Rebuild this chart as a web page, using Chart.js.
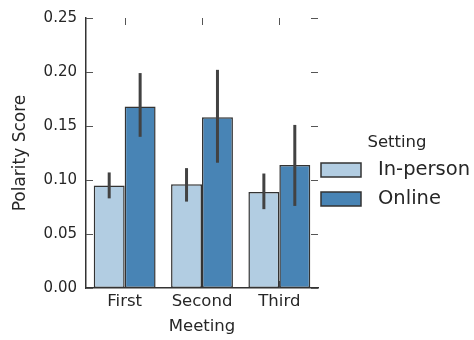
<!DOCTYPE html>
<html>
<head>
<meta charset="utf-8">
<script src="https://cdn.jsdelivr.net/npm/chart.js@4.4.1/dist/chart.umd.min.js"></script>
<style>
  html, body { margin: 0; padding: 0; background: #fff; }
  #wrap { width: 474px; height: 340px; }
</style>
</head>
<body>
<div id="wrap"><canvas id="chart" width="474" height="340"></canvas></div>
<script>
const meetings = ['First', 'Second', 'Third'];
const settings = ['In-person', 'Online'];

const inPerson = [0.095, 0.096, 0.089];
const online = [0.168, 0.158, 0.114];

// confidence intervals (low, high)
const inPersonLow = [0.083, 0.080, 0.073];
const inPersonHigh = [0.107, 0.111, 0.106];
const onlineLow = [0.140, 0.116, 0.076];
const onlineHigh = [0.199, 0.202, 0.151];

const yTicks = [0, 0.05, 0.10, 0.15, 0.20, 0.25];

const colors = ['#b2cde2', '#4884b5'];
const textColor = '#262626';
const font = 'DejaVu Sans';

const errorBars = {
    id: 'errorBars',
    afterDatasetsDraw(chart) {
        const ctx = chart.ctx;
        const y = chart.scales.y;
        const lows = [inPersonLow, onlineLow];
        const highs = [inPersonHigh, onlineHigh];
        ctx.save();
        ctx.strokeStyle = '#424242';
        ctx.lineWidth = 3;
        chart.data.datasets.forEach((ds, di) => {
            chart.getDatasetMeta(di).data.forEach((bar, i) => {
                ctx.beginPath();
                ctx.moveTo(bar.x, y.getPixelForValue(lows[di][i]));
                ctx.lineTo(bar.x, y.getPixelForValue(highs[di][i]));
                ctx.stroke();
            });
        });
        ctx.restore();
    }
};

// inward tick marks on all four sides, like the matplotlib style
const tickMarks = {
    id: 'tickMarks',
    beforeDatasetsDraw(chart) {
        const ctx = chart.ctx;
        const a = chart.chartArea;
        const x = chart.scales.x;
        const y = chart.scales.y;
        ctx.save();
        ctx.strokeStyle = '#555';
        ctx.lineWidth = 1;
        ctx.beginPath();
        yTicks.forEach(v => {
            const py = Math.round(y.getPixelForValue(v)) + 0.5;
            ctx.moveTo(a.left, py); ctx.lineTo(a.left + 7, py);
            ctx.moveTo(a.right - 7, py); ctx.lineTo(a.right, py);
        });
        meetings.forEach((m, i) => {
            const px = Math.round(x.getPixelForTick(i)) + 0.5;
            ctx.moveTo(px, a.top); ctx.lineTo(px, a.top + 7);
            ctx.moveTo(px, a.bottom); ctx.lineTo(px, a.bottom - 7);
        });
        ctx.stroke();
        ctx.restore();
    }
};

const sideLegend = {
    id: 'sideLegend',
    afterDraw(chart) {
        const ctx = chart.ctx;
        ctx.save();
        ctx.fillStyle = textColor;
        ctx.textBaseline = 'middle';
        ctx.textAlign = 'center';
        ctx.font = '16.5px "' + font + '"';
        ctx.fillText('Setting', 397, 143);
        ctx.textAlign = 'left';
        ctx.font = '19.5px "' + font + '"';
        settings.forEach((s, i) => {
            const top = 163 + i * 29;
            ctx.fillStyle = colors[i];
            ctx.fillRect(321, top, 40, 14);
            ctx.strokeStyle = '#333';
            ctx.lineWidth = 1.5;
            ctx.strokeRect(321, top, 40, 14);
            ctx.fillStyle = textColor;
            ctx.fillText(s, 378, top + 7);
        });
        ctx.restore();
    }
};

new Chart(document.getElementById('chart'), {
    type: 'bar',
    data: {
        labels: meetings,
        datasets: [
            { label: settings[0], data: inPerson, backgroundColor: colors[0] },
            { label: settings[1], data: online, backgroundColor: colors[1] }
        ]
    },
    options: {
        responsive: false,
        animation: false,
        layout: { padding: { top: 16, right: 156, left: 0, bottom: 0 } },
        datasets: {
            bar: {
                categoryPercentage: 0.8,
                barPercentage: 1.0,
                borderColor: '#333',
                borderWidth: 1.5,
                borderSkipped: false
            }
        },
        plugins: {
            legend: { display: false },
            tooltip: { enabled: false }
        },
        scales: {
            x: {
                grid: { display: false, drawTicks: false },
                border: { color: '#333', width: 1.5 },
                ticks: { color: textColor, font: { family: font, size: 16.5 }, padding: 4 },
                title: { display: true, text: 'Meeting', color: textColor, font: { family: font, size: 16.5 }, padding: { bottom: 3 } },
                afterFit(s) { s.height = 52; }
            },
            y: {
                min: 0,
                max: 0.25,
                afterBuildTicks(s) { s.ticks = yTicks.map(v => ({ value: v })); },
                grid: { display: false, drawTicks: false },
                border: { color: '#333', width: 1.5 },
                ticks: {
                    color: textColor,
                    font: { family: font, size: 15 },
                    padding: 9,
                    callback: v => v.toFixed(2)
                },
                title: { display: true, text: 'Polarity Score', color: textColor, font: { family: font, size: 17 }, padding: { top: 10 } },
                afterFit(s) { s.width = 86; }
            }
        }
    },
    plugins: [tickMarks, errorBars, sideLegend]
});
</script>
</body>
</html>
